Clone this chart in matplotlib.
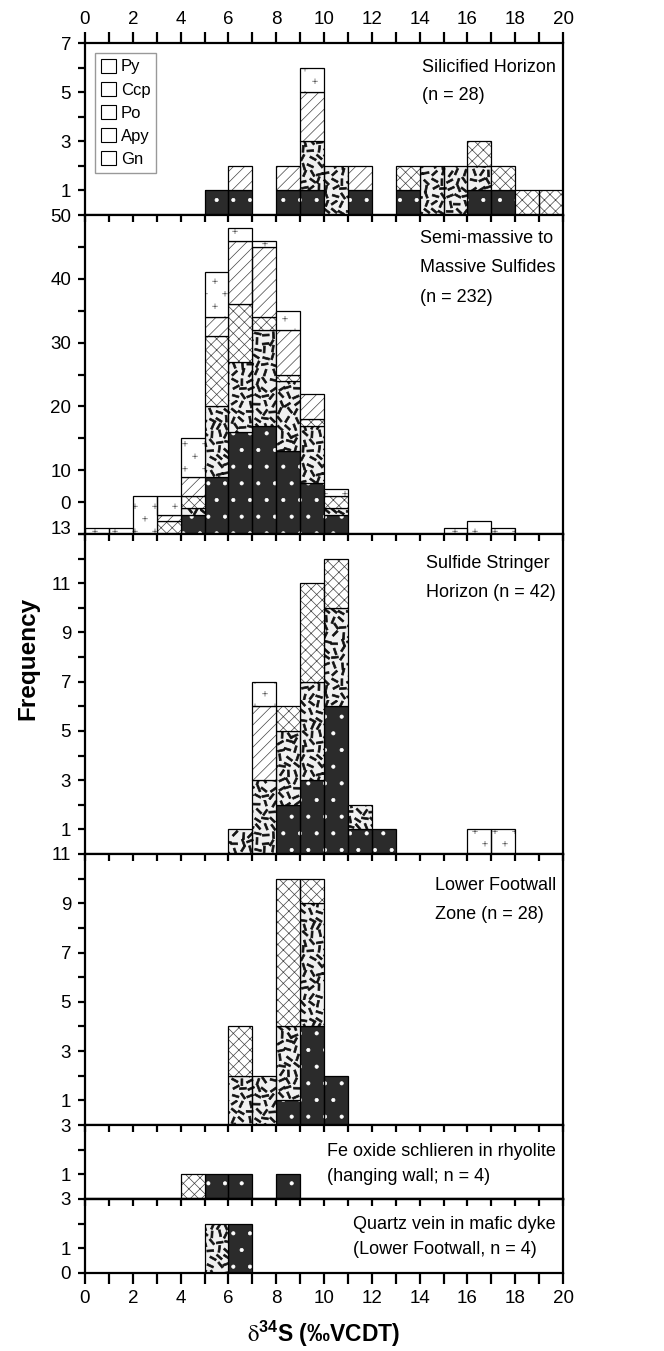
import warnings
import numpy as np
import matplotlib
matplotlib.use('Agg')
import matplotlib.pyplot as plt
import matplotlib.hatch as mhatch
from matplotlib.path import Path
from matplotlib.patches import Patch

warnings.filterwarnings('ignore')

# bins are 1 permil wide, left edges 0..19
bins = np.arange(0, 20)
minerals = ['Py', 'Ccp', 'Po', 'Apy', 'Gn']

# Silicified Horizon (n = 28)
sil_py  = [0, 0, 0, 0, 0, 1, 1, 0, 1, 1, 0, 1, 0, 1, 0, 0, 1, 1, 0, 0]
sil_ccp = [0, 0, 0, 0, 0, 0, 0, 0, 0, 2, 2, 0, 0, 0, 2, 2, 1, 0, 0, 0]
sil_po  = [0, 0, 0, 0, 0, 0, 0, 0, 0, 0, 0, 0, 0, 1, 0, 0, 1, 1, 1, 1]
sil_apy = [0, 0, 0, 0, 0, 0, 1, 0, 1, 2, 0, 1, 0, 0, 0, 0, 0, 0, 0, 0]
sil_gn  = [0, 0, 0, 0, 0, 0, 0, 0, 0, 1, 0, 0, 0, 0, 0, 0, 0, 0, 0, 0]

# Semi-massive to massive sulfides (n = 232)
mas_py  = [0, 0, 0, 0, 3, 9, 16, 17, 13, 8, 3, 0, 0, 0, 0, 0, 0, 0, 0, 0]
mas_ccp = [0, 0, 0, 0, 1, 11, 11, 15, 11, 9, 1, 0, 0, 0, 0, 0, 0, 0, 0, 0]
mas_po  = [0, 0, 0, 2, 2, 11, 9, 2, 1, 1, 2, 0, 0, 0, 0, 0, 0, 0, 0, 0]
mas_apy = [0, 0, 0, 1, 3, 3, 10, 11, 7, 4, 0, 0, 0, 0, 0, 0, 0, 0, 0, 0]
mas_gn  = [1, 1, 6, 3, 6, 7, 2, 1, 3, 0, 1, 0, 0, 0, 0, 1, 2, 1, 0, 0]

# Sulfide stringer horizon (n = 42)
str_py  = [0, 0, 0, 0, 0, 0, 0, 0, 2, 3, 6, 1, 1, 0, 0, 0, 0, 0, 0, 0]
str_ccp = [0, 0, 0, 0, 0, 0, 1, 3, 3, 4, 4, 1, 0, 0, 0, 0, 0, 0, 0, 0]
str_po  = [0, 0, 0, 0, 0, 0, 0, 0, 1, 4, 2, 0, 0, 0, 0, 0, 0, 0, 0, 0]
str_apy = [0, 0, 0, 0, 0, 0, 0, 3, 0, 0, 0, 0, 0, 0, 0, 0, 0, 0, 0, 0]
str_gn  = [0, 0, 0, 0, 0, 0, 0, 1, 0, 0, 0, 0, 0, 0, 0, 0, 1, 1, 0, 0]

# Lower footwall zone (n = 28)
lfw_py  = [0, 0, 0, 0, 0, 0, 0, 0, 1, 4, 2, 0, 0, 0, 0, 0, 0, 0, 0, 0]
lfw_ccp = [0, 0, 0, 0, 0, 0, 2, 2, 3, 5, 0, 0, 0, 0, 0, 0, 0, 0, 0, 0]
lfw_po  = [0, 0, 0, 0, 0, 0, 2, 0, 6, 1, 0, 0, 0, 0, 0, 0, 0, 0, 0, 0]
lfw_apy = [0] * 20
lfw_gn  = [0] * 20

# Fe oxide schlieren (n = 4)
feo_py  = [0, 0, 0, 0, 0, 1, 1, 0, 1, 0, 0, 0, 0, 0, 0, 0, 0, 0, 0, 0]
feo_ccp = [0] * 20
feo_po  = [0, 0, 0, 0, 1, 0, 0, 0, 0, 0, 0, 0, 0, 0, 0, 0, 0, 0, 0, 0]
feo_apy = [0] * 20
feo_gn  = [0] * 20

# Quartz vein in mafic dyke (n = 4)
qtz_py  = [0, 0, 0, 0, 0, 0, 2, 0, 0, 0, 0, 0, 0, 0, 0, 0, 0, 0, 0, 0]
qtz_ccp = [0, 0, 0, 0, 0, 2, 0, 0, 0, 0, 0, 0, 0, 0, 0, 0, 0, 0, 0, 0]
qtz_po  = [0] * 20
qtz_apy = [0] * 20
qtz_gn  = [0] * 20

titles = ['Silicified Horizon\n(n = 28)',
          'Semi-massive to\nMassive Sulfides\n(n = 232)',
          'Sulfide Stringer\nHorizon (n = 42)',
          'Lower Footwall\nZone (n = 28)',
          'Fe oxide schlieren in rhyolite\n(hanging wall; n = 4)',
          'Quartz vein in mafic dyke\n(Lower Footwall, n = 4)']

stacks = [[sil_py, sil_ccp, sil_po, sil_apy, sil_gn],
          [mas_py, mas_ccp, mas_po, mas_apy, mas_gn],
          [str_py, str_ccp, str_po, str_apy, str_gn],
          [lfw_py, lfw_ccp, lfw_po, lfw_apy, lfw_gn],
          [feo_py, feo_ccp, feo_po, feo_apy, feo_gn],
          [qtz_py, qtz_ccp, qtz_po, qtz_apy, qtz_gn]]

ymax = [7, 50, 13, 11, 3, 3]


def _hash(k, s):
    # cheap deterministic scrambler for the hatch texture
    return (np.sin(k * 12.9898 + s * 78.233) * 43758.5453) % 1


# --- custom hatches: scattered dashes (Ccp) and small plus signs (Gn)
class DashHatch(mhatch.HatchPatternBase):
    n = 13

    def __init__(self, hatch, density):
        self.num_vertices = 5 * self.n * self.n if 'd' in hatch else 0

    def set_vertices_and_codes(self, vertices, codes):
        L, W = 0.034, 0.0095
        step = 1.0 / self.n
        k = 0
        for r in range(self.n):
            for c in range(self.n):
                idx = r * self.n + c + 1
                cx = (c + 0.5 + 0.4 * (_hash(idx, 1) - 0.5)) * step
                cy = (r + 0.5 + 0.4 * (_hash(idx, 2) - 0.5)) * step
                a = _hash(idx, 3) * np.pi
                dx, dy = np.cos(a), np.sin(a)
                nx, ny = -dy, dx
                pts = [(cx + L * dx + W * nx, cy + L * dy + W * ny),
                       (cx - L * dx + W * nx, cy - L * dy + W * ny),
                       (cx - L * dx - W * nx, cy - L * dy - W * ny),
                       (cx + L * dx - W * nx, cy + L * dy - W * ny)]
                vertices[k:k + 4] = pts
                vertices[k + 4] = pts[0]
                codes[k] = Path.MOVETO
                codes[k + 1:k + 4] = Path.LINETO
                codes[k + 4] = Path.CLOSEPOLY
                k += 5


class PlusHatch(mhatch.HatchPatternBase):
    rows, cols = 8, 5

    def __init__(self, hatch, density):
        self.num_vertices = 4 * self.rows * self.cols if 'p' in hatch else 0

    def set_vertices_and_codes(self, vertices, codes):
        s = 0.024
        k = 0
        for r in range(self.rows):
            for c in range(self.cols):
                x = (c + 0.25 + 0.5 * (r % 2)) / self.cols
                y = (r + 0.5) / self.rows
                vertices[k:k + 4] = [(x - s, y), (x + s, y), (x, y - s), (x, y + s)]
                codes[k:k + 4] = [Path.MOVETO, Path.LINETO, Path.MOVETO, Path.LINETO]
                k += 4


mhatch._hatch_types.append(DashHatch)
mhatch._hatch_types.append(PlusHatch)

styles = {
    'Py':  dict(face='#2b2b2b', hatch='.', hcolor='white'),
    'Ccp': dict(face='#f0f0f0', hatch='d', hcolor='#111111'),
    'Po':  dict(face='white', hatch='xxx', hcolor='#444444'),
    'Apy': dict(face='white', hatch='///', hcolor='#444444'),
    'Gn':  dict(face='white', hatch='p', hcolor='#555555'),
}

plt.rcParams['font.family'] = ['Liberation Sans', 'DejaVu Sans']
plt.rcParams['hatch.linewidth'] = 0.5
plt.rcParams['mathtext.fontset'] = 'custom'
plt.rcParams['mathtext.rm'] = 'STIXGeneral'
plt.rcParams['mathtext.bf'] = 'Liberation Sans:bold'

fig = plt.figure(figsize=(6.64, 13.51), dpi=100)
gs = fig.add_gridspec(6, 1, height_ratios=[172, 319, 320, 271, 74, 74], hspace=0,
                      left=85 / 664, right=563 / 664, top=1 - 43 / 1351, bottom=1 - 1273 / 1351)
axes = [fig.add_subplot(gs[i]) for i in range(6)]

text_y = [0.905, 0.953, 0.934, 0.915, 0.76, 0.77]
line_sp = [1.85, 1.95, 1.95, 1.95, 1.6, 1.6]

for i, ax in enumerate(axes):
    bottom = np.zeros(len(bins))
    for name, vals in zip(minerals, stacks[i]):
        vals = np.asarray(vals, float)
        m = vals > 0
        st = styles[name]
        if m.any():
            ax.bar(bins[m], vals[m], width=1, bottom=bottom[m], align='edge',
                   color=st['face'], edgecolor=st['hcolor'], hatch=st['hatch'], linewidth=0)
            ax.bar(bins[m], vals[m], width=1, bottom=bottom[m], align='edge',
                   fill=False, edgecolor='black', linewidth=0.9)
        bottom += vals

    ax.set_xlim(0, 20)
    ax.set_ylim(0, ymax[i])
    for sp in ax.spines.values():
        sp.set_linewidth(1.6)

    # y ticks
    if i == 1:
        yt = list(range(0, 51, 5))
        yl = [str(v) if v % 10 == 0 and v > 0 else '' for v in yt]
    elif i == 5:
        yt = [0, 1, 2, 3]
        yl = ['0', '1', '', '3']
    else:
        yt = list(range(1, ymax[i] + 1))
        yl = [str(v) if v % 2 == 1 else '' for v in yt]
    ax.set_yticks(yt)
    ax.set_yticklabels(yl)
    ax.tick_params(axis='y', direction='out', length=5, width=1.6, labelsize=13.5, pad=5)
    if i == 1:
        # the "0" sits just above the next panel's top label
        ax.annotate('0', xy=(0, 0), xycoords=('axes fraction', 'data'), xytext=(-10, 15),
                    textcoords='offset points', ha='right', va='bottom', fontsize=13.5)
    if i == 2:
        ax.get_yticklabels()[-1].set_verticalalignment('baseline')

    # x ticks
    ax.set_xticks(range(0, 21))
    xl = [str(v) if v % 2 == 0 else '' for v in range(0, 21)]
    if i == 0:
        ax.set_xticklabels(xl)
        ax.tick_params(axis='x', top=True, bottom=False, labeltop=True, labelbottom=False,
                       direction='out', length=8, width=1.6, labelsize=13.5, pad=3)
    elif i < 5:
        ax.tick_params(axis='x', top=True, bottom=False, labeltop=False, labelbottom=False,
                       direction='in', length=5, width=1.6)
    else:
        ax.set_xticklabels(xl)
        ax.tick_params(axis='x', top=False, bottom=True, labelbottom=True,
                       direction='out', length=8, width=1.6, labelsize=13.5, pad=4)
        sec = ax.secondary_xaxis('top')
        sec.set_xticks(range(0, 21))
        sec.tick_params(axis='x', direction='in', length=5, width=1.6, labeltop=False)
        sec.spines['top'].set_linewidth(1.6)

    ax.text(0.985, text_y[i], titles[i], transform=ax.transAxes, ha='right', va='top',
            multialignment='left', fontsize=13, linespacing=line_sp[i])

handles = [Patch(facecolor='white', edgecolor='black', linewidth=0.8) for _ in minerals]
axes[0].legend(handles, minerals, loc='upper left', bbox_to_anchor=(0.021, 0.942),
               borderaxespad=0, fancybox=False, edgecolor='#999999', framealpha=1,
               handlelength=0.9, handleheight=0.9, handletextpad=0.3, labelspacing=0.45,
               borderpad=0.35, fontsize=12)

axes[5].set_xlabel(r'$\mathrm{\delta}^{\mathbf{34}}$S (‰VCDT)', fontsize=16.5,
                   fontweight='bold', labelpad=9)
fig.text(28 / 664, 1 - 658 / 1351, 'Frequency', rotation=90, fontsize=17.5,
         fontweight='bold', ha='center', va='center')

fig.savefig('out.png', dpi=100, facecolor='white')
